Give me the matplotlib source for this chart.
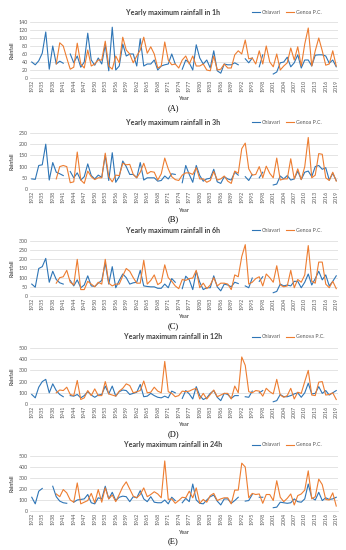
import matplotlib
matplotlib.use('Agg')
import matplotlib.pyplot as plt
import numpy as np

na = np.nan
years = list(range(1932, 2020))

# 1h
chiavari_1h = [40, 33, 43, 62, 115, 22, 80, 35,
               42, 37, na, 60, 38, 55, 27, 40, 112, 45,
               32, 50, 35, 83, 18, 127, 20, 30, 85, 55,
               60, 60, 30, 98, 30, 35, 35, 45, 20, 30,
               33, 35, 60, 35, na, 22, 45, 38, 20, 83,
               50, 35, 45, 25, 68, 18, 12, 35, 33, 33,
               38, 33, na, 48, 38, 50, na, 28, 58, na,
               na, 10, 15, 38, 40, 52, 28, 38, 58, 25,
               45, 45, 30, 57, 58, 58, 55, 37, 45, 28]
genoa_1h = [na, na, na, na, na, na, na, 35,
            88, 80, 50, 22, 27, 87, 35, 25, 70, 30,
            35, 45, 45, 92, 30, 22, 55, 38, 102, 70,
            60, 38, 55, 70, 102, 62, 78, 60, 25, 30,
            90, 45, 33, 35, 25, 45, 55, 35, 55, 30,
            30, 35, 20, 18, 55, 20, 22, 35, 25, 25,
            58, 68, 60, 95, 48, 50, 35, 68, 35, 80,
            40, 28, 60, 20, 30, 38, 75, 45, 78, 30,
            85, 125, 30, 68, 100, 68, 32, 35, 68, 30]

# 3h
chiavari_3h = [45, 43, 105, 108, 200, 40, 118, 75,
               68, 60, na, 78, 50, 72, 40, 55, 112, 60,
               45, 62, 52, 150, 38, 162, 30, 55, 125, 100,
               65, 65, 50, 118, 40, 50, 50, 50, 35, 38,
               58, 45, 68, 65, na, 28, 105, 65, 30, 105,
               60, 35, 45, 48, 88, 32, 25, 55, 45, 40,
               75, 62, na, 55, 38, 65, na, 50, 75, na,
               na, 18, 22, 58, 45, 60, 40, 45, 80, 42,
               75, 80, 55, 100, 105, 88, 95, 40, 70, 38]
genoa_3h = [na, na, na, na, na, na, na, 45,
            100, 105, 100, 28, 32, 165, 40, 25, 80, 55,
            42, 50, 50, 160, 55, 32, 62, 60, 115, 108,
            110, 65, 50, 75, 115, 68, 78, 75, 40, 68,
            138, 90, 55, 42, 38, 62, 72, 72, 65, 95,
            45, 45, 30, 38, 78, 40, 45, 58, 35, 25,
            80, 70, 180, 205, 90, 62, 65, 100, 50, 102,
            70, 50, 138, 40, 45, 45, 135, 45, 90, 42,
            100, 230, 50, 62, 158, 155, 50, 38, 75, 35]

# 6h
chiavari_6h = [65, 48, 150, 160, 205, 75, 135, 90,
               72, 65, na, 85, 55, 88, 45, 60, 110, 55,
               52, 70, 85, 180, 65, 160, 45, 85, 120, 100,
               65, 72, 75, 140, 55, 52, 50, 50, 42, 42,
               65, 45, 95, 75, na, 40, 108, 88, 35, 135,
               75, 35, 45, 45, 110, 50, 28, 65, 60, 50,
               75, 68, na, 55, 45, 98, na, 80, 105, na,
               na, 18, 25, 65, 55, 60, 55, 80, 80, 45,
               75, 120, 60, 95, 135, 88, 115, 55, 80, 110]
genoa_6h = [na, na, na, na, na, na, na, 70,
            100, 105, 140, 75, 60, 200, 35, 35, 80, 65,
            50, 75, 65, 200, 70, 55, 65, 65, 110, 150,
            135, 100, 70, 70, 195, 65, 85, 115, 62, 75,
            170, 100, 80, 55, 40, 90, 85, 95, 98, 140,
            45, 70, 40, 60, 100, 55, 70, 70, 65, 35,
            115, 105, 215, 280, 65, 75, 95, 105, 55, 120,
            100, 75, 165, 60, 50, 55, 140, 45, 90, 75,
            115, 275, 80, 70, 185, 185, 65, 45, 80, 40]

# 12h
chiavari_12h = [85, 55, 150, 200, 220, 100, 180, 120,
                85, 65, na, 75, 70, 85, 55, 75, 110, 80,
                60, 80, 85, 160, 90, 160, 70, 110, 125, 120,
                85, 95, 105, 175, 65, 70, 95, 75, 60, 55,
                70, 55, 115, 100, na, 50, 120, 90, 45, 155,
                75, 40, 55, 95, 120, 60, 30, 95, 85, 50,
                75, 75, na, 65, 60, 115, na, 100, 120, na,
                na, 20, 30, 85, 65, 65, 75, 90, 100, 60,
                100, 185, 90, 95, 155, 95, 120, 80, 100, 120]
genoa_12h = [na, na, na, na, na, na, na, 100,
             125, 120, 150, 85, 75, 210, 40, 55, 120, 75,
             135, 75, 75, 200, 90, 80, 70, 115, 140, 180,
             165, 100, 110, 120, 205, 100, 105, 150, 115, 100,
             380, 110, 95, 65, 75, 115, 110, 115, 130, 140,
             45, 95, 45, 85, 125, 65, 80, 95, 95, 45,
             160, 100, 420, 345, 110, 100, 120, 115, 70, 140,
             110, 90, 220, 80, 60, 75, 140, 45, 105, 95,
             200, 300, 80, 75, 195, 200, 80, 85, 100, 40]

# 24h
chiavari_24h = [125, 65, 180, 205, na, na, 225, 130,
                90, 75, 70, na, 80, 100, 105, 110, 150, 75,
                65, 120, 110, 225, 110, 170, 95, 125, 135, 130,
                85, 130, 120, 185, 110, 85, 130, 80, 75, 75,
                100, 65, 125, 95, na, 75, 115, 85, 245, 100,
                70, 65, 100, 130, 145, 90, 55, 110, 110, 70,
                95, 125, na, 90, 95, 150, na, 125, 125, na,
                na, 30, 35, 80, 75, 70, 75, 110, 85, 80,
                110, 245, 120, 100, 170, 95, 120, 105, 110, 125]
genoa_24h = [na, na, na, na, na, na, na, 155,
             130, 195, 165, 100, 80, 255, 65, 80, 95, 160,
             75, 195, 80, 210, 110, 145, 85, 150, 220, 265,
             200, 135, 120, 150, 210, 130, 150, 175, 155, 120,
             455, 105, 110, 70, 95, 125, 120, 180, 120, 210,
             70, 105, 80, 140, 160, 95, 110, 120, 120, 65,
             190, 190, 435, 400, 120, 160, 150, 155, 70, 150,
             150, 95, 275, 125, 85, 115, 155, 55, 140, 155,
             190, 365, 110, 130, 290, 240, 105, 100, 165, 45]

titles = ['Yearly maximum rainfall in 1h', 'Yearly maximum rainfall in 3h',
          'Yearly maximum rainfall in 6h', 'Yearly maximum rainfall in 12h',
          'Yearly maximum rainfall in 24h']
genoa_names = ['Genoa P.C.', 'Genoa P.C.', 'Genoa P.C.', 'Genova P.C.', 'Genoa P.C.']
panel_tags = ['(A)', '(B)', '(C)', '(D)', '(E)']
y_max = [140, 250, 300, 500, 500]
y_step = [20, 50, 50, 100, 100]
chiavari_all = [chiavari_1h, chiavari_3h, chiavari_6h, chiavari_12h, chiavari_24h]
genoa_all = [genoa_1h, genoa_3h, genoa_6h, genoa_12h, genoa_24h]

# pixel layout (top, bottom of plot area, title y)
W, H = 346, 550
ax_top = [22, 133, 241, 348, 456]
ax_bot = [78, 189, 296, 404, 511]
title_y = [12, 122, 230, 337, 445]

BLUE = '#2E75B6'
ORANGE = '#ED7D31'
GRAY = '#595959'

plt.rcParams['font.family'] = ['Lato', 'DejaVu Sans']

fig = plt.figure(figsize=(W / 100, H / 100), dpi=100)
fig.patch.set_facecolor('white')

left, right = 30, 338
for i in range(5):
    ax = fig.add_axes([left / W, 1 - ax_bot[i] / H, (right - left) / W,
                       (ax_bot[i] - ax_top[i]) / H])
    ax.plot(years, np.array(chiavari_all[i], dtype=float), color=BLUE, lw=0.8,
            label='Chiavari')
    ax.plot(years, np.array(genoa_all[i], dtype=float), color=ORANGE, lw=0.8,
            label=genoa_names[i])
    ax.set_xlim(1931.5, 2019.5)
    ax.set_ylim(0, y_max[i])
    ax.set_yticks(np.arange(0, y_max[i] + 1, y_step[i]))
    ax.set_xticks(years[::3])
    ax.set_xticklabels([str(y) for y in years[::3]], rotation=90)
    ax.tick_params(length=0, labelsize=3.8, colors=GRAY, pad=1.5)
    ax.grid(axis='y', color='#D9D9D9', lw=0.5)
    ax.set_axisbelow(True)
    for s in ['top', 'right', 'left']:
        ax.spines[s].set_visible(False)
    ax.spines['bottom'].set_color('#D9D9D9')
    ax.spines['bottom'].set_linewidth(0.5)
    ax.set_ylabel('Rainfall', fontsize=3.8, fontweight='bold', color=GRAY, labelpad=3)

    fig.text(173 / W, 1 - title_y[i] / H, titles[i], ha='center', va='center',
             fontsize=5.1, fontweight='bold', color='#404040')
    fig.text(183 / W, 1 - (ax_bot[i] + 21) / H, 'Year', ha='center', va='center',
             fontsize=3.8, fontweight='bold', color=GRAY)
    fig.text(173 / W, 1 - (ax_bot[i] + 30) / H, panel_tags[i], ha='center', va='center',
             fontsize=6, family='Liberation Serif', color='black')
    leg = ax.legend(loc='center left', bbox_to_anchor=(249 / W, 1 - title_y[i] / H),
                    bbox_transform=fig.transFigure, ncol=2, frameon=False,
                    fontsize=3.8, handlelength=1.6, handletextpad=0.3,
                    columnspacing=1.0, borderpad=0)
    for t in leg.get_texts():
        t.set_color(GRAY)

fig.savefig('out.png', dpi=100)
